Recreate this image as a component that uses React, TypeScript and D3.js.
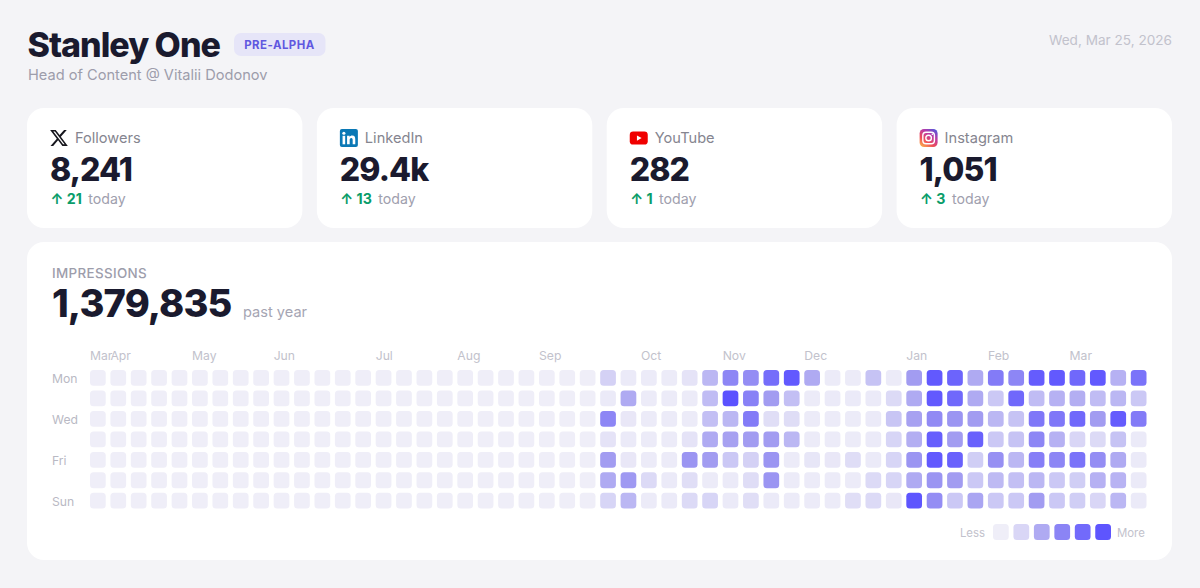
import React from 'react';
import * as d3 from 'd3';

const platforms = ['x', 'linkedin', 'youtube', 'instagram'];
const statLabels = ['Followers', 'LinkedIn', 'YouTube', 'Instagram'];
const statValues = ['8,241', '29.4k', '282', '1,051'];
const statDeltas = [21, 13, 1, 3];
const dayLabels = ['Mon', '', 'Wed', '', 'Fri', '', 'Sun'];
const monthLabels = ['Mar', 'Apr', 'May', 'Jun', 'Jul', 'Aug', 'Sep', 'Oct', 'Nov', 'Dec', 'Jan', 'Feb', 'Mar'];
const monthWeeks = [0, 1, 5, 9, 14, 18, 22, 27, 31, 35, 40, 44, 48];
const legendLevels = [0, 0.17, 0.42, 0.66, 0.84, 0.98];

// one list per week, Mon..Sun, as intensity 0-1
const weeks: number[][] = [
  [0, 0, 0, 0, 0, 0, 0], [0, 0, 0, 0, 0, 0, 0], [0, 0, 0, 0, 0, 0, 0], [0, 0, 0, 0, 0, 0, 0], [0, 0, 0, 0, 0, 0, 0],
  [0, 0, 0, 0, 0, 0, 0], [0, 0, 0, 0, 0, 0, 0], [0, 0, 0, 0, 0, 0, 0], [0, 0, 0, 0, 0, 0, 0], [0, 0, 0, 0, 0, 0, 0],
  [0, 0, 0, 0, 0, 0, 0], [0, 0, 0, 0, 0, 0, 0], [0, 0, 0, 0, 0, 0, 0], [0, 0, 0, 0, 0, 0, 0], [0, 0, 0, 0, 0, 0, 0],
  [0, 0, 0, 0, 0, 0, 0], [0, 0, 0, 0, 0, 0, 0], [0, 0, 0, 0, 0, 0, 0], [0, 0, 0, 0, 0, 0, 0], [0, 0, 0, 0, 0, 0, 0],
  [0, 0, 0, 0, 0, 0, 0], [0, 0, 0, 0, 0, 0, 0], [0, 0, 0, 0, 0, 0, 0], [0, 0, 0, 0, 0, 0, 0], [0, 0, 0, 0, 0, 0, 0],
  [0.2, 0.03, 0.65, 0.08, 0.5, 0.42, 0.18],
  [0.03, 0.42, 0.05, 0.03, 0.05, 0.52, 0.35],
  [0.02, 0.02, 0.02, 0.02, 0.02, 0.15, 0.02],
  [0.02, 0.02, 0.02, 0.02, 0.02, 0.03, 0.03],
  [0.08, 0.02, 0.02, 0.08, 0.55, 0.12, 0.15],
  [0.35, 0.32, 0.3, 0.42, 0.5, 0.02, 0.18],
  [0.65, 1.0, 0.35, 0.47, 0.25, 0.03, 0.03],
  [0.6, 0.68, 0.72, 0.5, 0.2, 0.13, 0.12],
  [0.82, 0.5, 0.12, 0.5, 0.55, 0.55, 0.03],
  [0.95, 0.3, 0.13, 0.35, 0.02, 0.02, 0.02],
  [0.42, 0.02, 0.02, 0.02, 0.06, 0.02, 0.02],
  [0.02, 0.03, 0.02, 0.02, 0.05, 0.02, 0.02],
  [0.02, 0.03, 0.02, 0.02, 0.13, 0.02, 0.12],
  [0.28, 0.03, 0.03, 0.03, 0.03, 0.15, 0.15],
  [0.02, 0.15, 0.27, 0.18, 0.18, 0.18, 0.05],
  [0.5, 0.42, 0.47, 0.4, 0.55, 0.42, 0.98],
  [0.95, 0.95, 0.62, 0.92, 0.95, 0.55, 0.6],
  [0.88, 0.85, 0.55, 0.5, 0.9, 0.5, 0.25],
  [0.42, 0.42, 0.5, 0.9, 0.22, 0.25, 0.45],
  [0.72, 0.25, 0.35, 0.25, 0.58, 0.33, 0.25],
  [0.65, 0.85, 0.28, 0.28, 0.35, 0.3, 0.25],
  [0.93, 0.32, 0.75, 0.65, 0.7, 0.35, 0.5],
  [0.95, 0.38, 0.75, 0.38, 0.65, 0.25, 0.25],
  [0.85, 0.4, 0.85, 0.17, 0.78, 0.22, 0.22],
  [0.95, 0.32, 0.5, 0.15, 0.6, 0.38, 0.17],
  [0.38, 0.35, 0.93, 0.28, 0.42, 0.37, 0.35],
  [0.78, 0.25, 0.72, 0.03, 0.03, 0.03, 0.03],
];

const FONT = 'Inter, sans-serif';
const INK = '#1a1a2e';

const xWeek = d3.scaleBand<number>().domain(d3.range(weeks.length)).range([90, 1146.5]).paddingInner(0.23);
const yDay = d3.scaleBand<number>().domain(d3.range(7)).range([370, 508.6]).paddingInner(0.23);
const xLegend = d3.scaleBand<number>().domain(d3.range(legendLevels.length)).range([993, 1111]).paddingInner(0.23);
const xCard = d3.scaleBand<number>().domain(d3.range(platforms.length)).range([27, 1172]).paddingInner(0.05);
const heat = d3.scaleLinear<string>()
  .domain([0, 0.15, 0.5, 1])
  .range(['#efeef8', '#dcdaf6', '#a29cf1', '#5b52ff'])
  .interpolate(d3.interpolateRgb);

function Icon({ name, x, y }: { name: string; x: number; y: number }) {
  if (name === 'x') {
    return (
      <g transform={`translate(${x - 0.9},${y - 0.9}) scale(0.82)`}>
        <path d="M18.24 2.25h3.31l-7.23 8.26 8.5 11.24H16.17l-5.21-6.82-5.97 6.82H1.68l7.73-8.84L1.25 2.25H8.08l4.71 6.23zm-1.16 17.52h1.83L7.08 4.13H5.12z" fill="#16161d" />
      </g>
    );
  }
  if (name === 'linkedin') {
    return (
      <g transform={`translate(${x},${y})`}>
        <rect x={0} y={0} width={18} height={18} rx={2} fill="#0a78b5" />
        <rect x={2.7} y={6.8} width={2.6} height={8.5} fill="#fff" />
        <circle cx={4} cy={4.2} r={1.55} fill="#fff" />
        <path d="M7.2 6.8h2.5V8c.5-.8 1.4-1.4 2.7-1.4 2.4 0 3 1.6 3 3.8v4.9h-2.6v-4.3c0-1.1-.2-2.1-1.4-2.1s-1.6 1-1.6 2.1v4.3H7.2z" fill="#fff" />
      </g>
    );
  }
  if (name === 'youtube') {
    return (
      <g transform={`translate(${x},${y})`}>
        <rect x={0} y={2.6} width={18} height={13} rx={3.4} fill="#f00000" />
        <path d="M7.2 6.4v5.4l4.7-2.7z" fill="#fff" />
      </g>
    );
  }
  return (
    <g transform={`translate(${x},${y})`}>
      <rect x={0} y={0} width={18} height={18} rx={4.4} fill="url(#igGrad)" />
      <rect x={3.2} y={3.2} width={11.6} height={11.6} rx={3.2} fill="none" stroke="#fff" strokeWidth={1.4} />
      <circle cx={9} cy={9} r={2.8} fill="none" stroke="#fff" strokeWidth={1.4} />
      <circle cx={12.7} cy={5.3} r={0.8} fill="#fff" />
    </g>
  );
}

export default function App() {
  return (
    <svg
      width={1200}
      height={588}
      viewBox="0 0 1200 588"
      style={{ position: 'absolute', top: 0, left: 0, display: 'block', fontFamily: FONT }}
    >
      <defs>
        <linearGradient id="igGrad" x1="0.1" y1="1" x2="0.8" y2="0">
          <stop offset="0%" stopColor="#fdb44b" />
          <stop offset="35%" stopColor="#ee4b5a" />
          <stop offset="70%" stopColor="#b93aa8" />
          <stop offset="100%" stopColor="#5a55d6" />
        </linearGradient>
      </defs>
      <rect width={1200} height={588} fill="#f4f4f7" />

      {/* header */}
      <text x={27.5} y={57} fontSize={34} fontWeight={800} letterSpacing={-1} fill={INK}>Stanley One</text>
      <rect x={234} y={33} width={91.5} height={23} rx={7} fill="#e6e5f8" />
      <text x={279.5} y={49} fontSize={11.4} fontWeight={700} letterSpacing={0.5} textAnchor="middle" fill="#6057e0">PRE-ALPHA</text>
      <text x={28} y={80} fontSize={14.6} fill="#9d9dab">Head of Content @ Vitalii Dodonov</text>
      <text x={1172} y={45} fontSize={13.6} textAnchor="end" fill="#c2c2cc">Wed, Mar 25, 2026</text>

      {/* stat cards */}
      {platforms.map((p, i) => {
        const x = xCard(i)!;
        return (
          <g key={p}>
            <rect x={x} y={108} width={xCard.bandwidth()} height={120} rx={17} fill="#fff" />
            <Icon name={p} x={x + 23} y={129} />
            <text x={x + 48} y={143} fontSize={14.6} fill="#85858f">{statLabels[i]}</text>
            <text x={x + 23} y={181} fontSize={32} fontWeight={800} letterSpacing={-0.9} fill={INK}>{statValues[i]}</text>
            <text x={x + 23.5} y={204} fontSize={14.2}>
              <tspan fontWeight={700} fill="#0a9d6a">↑ {statDeltas[i]}</tspan>
              <tspan dx={6.5} fill="#a0a0ae">today</tspan>
            </text>
          </g>
        );
      })}

      {/* impressions card */}
      <rect x={27} y={242} width={1145} height={318} rx={17} fill="#fff" />
      <text x={52} y={278} fontSize={13.4} fontWeight={500} letterSpacing={0.35} fill="#9d9dab">IMPRESSIONS</text>
      <text x={52} y={317} fontSize={38} fontWeight={800} letterSpacing={-0.9} fill={INK}>1,379,835</text>
      <text x={243} y={317} fontSize={14.6} fill="#a5a5b3">past year</text>

      {monthLabels.map((m, i) => (
        <text key={i} x={xWeek(monthWeeks[i])!} y={360} fontSize={12.2} fill="#c2c2cc">{m}</text>
      ))}
      {dayLabels.map((d, i) => d && (
        <text key={i} x={52} y={yDay(i)! + 13} fontSize={12.2} fill="#b9b9c4">{d}</text>
      ))}

      {weeks.map((week, w) => week.map((v, d) => (
        <rect
          key={`${w}-${d}`}
          x={xWeek(w)!}
          y={yDay(d)!}
          width={xWeek.bandwidth()}
          height={yDay.bandwidth()}
          rx={3.5}
          fill={heat(v)}
        />
      )))}

      {/* legend */}
      <text x={985} y={537} fontSize={11.4} textAnchor="end" fill="#c2c2cc">Less</text>
      {legendLevels.map((v, i) => (
        <rect key={i} x={xLegend(i)!} y={524} width={xLegend.bandwidth()} height={16} rx={3.5} fill={heat(v)} />
      ))}
      <text x={1117} y={537} fontSize={11.4} fill="#c2c2cc">More</text>
    </svg>
  );
}
